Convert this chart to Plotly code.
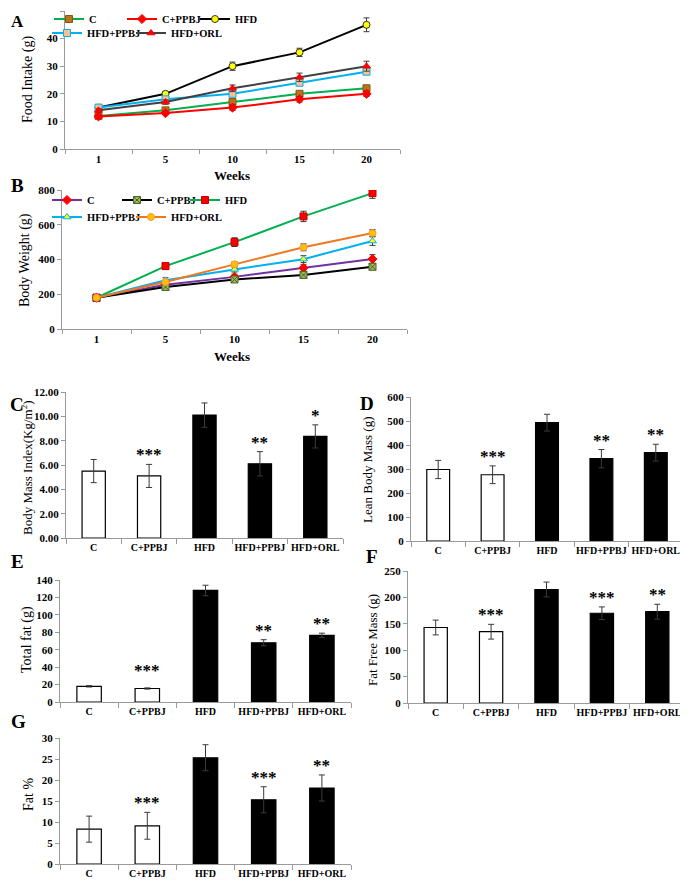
import plotly.graph_objects as go

# the page places the figure 8px in from the top-left corner of the window
OFF = 8
W, H = 688 - OFF, 883 - OFF
FONT = "Liberation Serif"

# ---------------- data ----------------
weeks = ["1", "5", "10", "15", "20"]

# Panel A: food intake (g)
fi_C = [12, 14, 17, 20, 22]
fi_C_err = [0.5, 0.5, 0.6, 0.8, 0.8]
fi_CP = [11.8, 13, 15, 18, 20]
fi_CP_err = [0.5, 0.6, 1.0, 1.0, 1.0]
fi_HFD = [15, 20, 30, 35, 45]
fi_HFD_err = [0.6, 0.8, 1.5, 1.5, 2.5]
fi_HP = [15, 18, 20, 24, 28]
fi_HP_err = [0.6, 0.6, 0.8, 1.0, 1.0]
fi_HO = [14, 17, 22, 26, 30]
fi_HO_err = [0.6, 0.8, 1.2, 1.5, 1.8]

# Panel B: body weight (g)
bw_C = [180, 255, 300, 352, 403]
bw_C_err = [5, 10, 15, 18, 25]
bw_CP = [180, 242, 285, 311, 358]
bw_CP_err = [5, 10, 12, 15, 15]
bw_HFD = [180, 362, 500, 648, 782]
bw_HFD_err = [5, 15, 25, 30, 30]
bw_HP = [180, 280, 343, 402, 506]
bw_HP_err = [5, 15, 15, 20, 25]
bw_HO = [180, 270, 372, 470, 552]
bw_HO_err = [5, 10, 15, 20, 20]

# Bar panels
groups = ["C", "C+PPBJ", "HFD", "HFD+PPBJ", "HFD+ORL"]
bmi = [5.5, 5.1, 10.1, 6.1, 8.35]
bmi_err = [0.95, 0.95, 1.0, 1.0, 0.95]
bmi_sig = ["", "***", "", "**", "*"]
lbm = [298, 276, 493, 343, 368]
lbm_err = [38, 37, 35, 38, 35]
lbm_sig = ["", "***", "", "**", "**"]
tfat = [18, 15.5, 128, 68, 76.5]
tfat_err = [0.8, 0.7, 6, 3.5, 2.5]
tfat_sig = ["", "***", "", "**", "**"]
ffm = [143, 135, 215, 170, 173]
ffm_err = [14, 14, 14, 12, 14]
ffm_sig = ["", "***", "", "***", "**"]
fatp = [8.3, 9.1, 25.3, 15.3, 18.1]
fatp_err = [3.1, 3.2, 3.1, 3.1, 3.1]
fatp_sig = ["", "***", "", "***", "**"]
bar_fill = ["white", "white", "black", "black", "black"]


def fx(p):
    return (p - OFF) / W


def fy(p):
    return 1 - (p - OFF) / H


def dx(a, b):
    return [fx(a), fx(b)]


def dy(top, bottom):
    return [fy(bottom), fy(top)]


fig = go.Figure()

ERR = dict(type="data", color="#3a3a3a", thickness=1, width=3, visible=True)


def line_trace(name, y, err, xa, ya, lcolor, msym, mcolor, mline, legend):
    fig.add_trace(go.Scatter(
        x=weeks, y=y, name=name, mode="lines+markers",
        line=dict(color=lcolor, width=2),
        marker=dict(symbol=msym, size=7, color=mcolor, line=dict(color=mline, width=1)),
        error_y=dict(ERR, array=err),
        xaxis=xa, yaxis=ya, legend=legend,
    ))


# Panel A
line_trace("C", fi_C, fi_C_err, "x", "y", "#00B050", "square", "#B8741A", "#8a5510", "legend")
line_trace("C+PPBJ", fi_CP, fi_CP_err, "x", "y", "#FF0000", "diamond", "#FF0000", "#FF0000", "legend2")
line_trace("HFD", fi_HFD, fi_HFD_err, "x", "y", "#000000", "circle", "#FFFF00", "#333333", "legend3")
line_trace("HFD+PPBJ", fi_HP, fi_HP_err, "x", "y", "#00B0F0", "square", "#FAC090", "#00B0F0", "legend4")
line_trace("HFD+ORL", fi_HO, fi_HO_err, "x", "y", "#404040", "triangle-up", "#FF0000", "#FF0000", "legend5")

# Panel B
line_trace("C", bw_C, bw_C_err, "x2", "y2", "#7030A0", "diamond", "#FF0000", "#FF0000", "legend6")
line_trace("C+PPBJ", bw_CP, bw_CP_err, "x2", "y2", "#000000", "square-x", "#9BBB59", "#4F6228", "legend7")
line_trace("HFD", bw_HFD, bw_HFD_err, "x2", "y2", "#00B050", "square", "#FF0000", "#C00000", "legend8")
line_trace("HFD+PPBJ", bw_HP, bw_HP_err, "x2", "y2", "#00B0F0", "triangle-up", "#FFFF00", "#00B0F0", "legend9")
line_trace("HFD+ORL", bw_HO, bw_HO_err, "x2", "y2", "#F07820", "circle", "#FFC000", "#F79646", "legend10")

# Bar panels
bar_panels = [
    (bmi, bmi_err, bmi_sig, "x3", "y3", 0),
    (lbm, lbm_err, lbm_sig, "x4", "y4", 0),
    (tfat, tfat_err, tfat_sig, "x5", "y5", 25),
    (ffm, ffm_err, ffm_sig, "x6", "y6", 0),
    (fatp, fatp_err, fatp_sig, "x7", "y7", 0),
]
annotations = []
for vals, errs, sigs, xa, ya, floor in bar_panels:
    fig.add_trace(go.Bar(
        x=groups, y=vals, width=0.42, showlegend=False,
        marker=dict(color=bar_fill, line=dict(color="black", width=1.2)),
        error_y=dict(ERR, array=errs, color="#3a3a3a"),
        xaxis=xa, yaxis=ya,
    ))
    for g, v, e, s in zip(groups, vals, errs, sigs):
        if s:
            annotations.append(dict(
                x=g, y=max(v + e, floor), xref=xa, yref=ya, text=s, showarrow=False,
                yanchor="bottom", yshift=-2,
                font=dict(family=FONT, size=17, color="black", weight="bold"),
            ))

TICKFONT = dict(family=FONT, size=11, color="black", weight="bold")
CATFONT = dict(family=FONT, size=10, color="black", weight="bold")
AX = dict(showgrid=False, zeroline=False, showline=True, linecolor="#9a9a9a", linewidth=1,
          ticks="outside", tickcolor="#9a9a9a", ticklen=4, tickfont=TICKFONT, automargin=False)
XB = dict(AX, range=[-0.5, 4.5], tickson="boundaries", tickangle=0, tickfont=CATFONT, ticklen=5)

fig.update_layout(
    xaxis=dict(AX, domain=dx(65, 400), anchor="y", range=[-0.5, 4.5], tickson="boundaries", tickangle=0),
    yaxis=dict(AX, domain=dy(11, 149), anchor="x", range=[0, 50], dtick=10),
    xaxis2=dict(AX, domain=dx(62, 407), anchor="y2", range=[-0.5, 4.5], tickson="boundaries", tickangle=0),
    yaxis2=dict(AX, domain=dy(190, 329), anchor="x2", range=[0, 800], dtick=200),
    xaxis3=dict(XB, domain=dx(66, 343), anchor="y3"),
    yaxis3=dict(AX, domain=dy(392, 538), anchor="x3", range=[0, 12], dtick=2, tickformat=".2f"),
    xaxis4=dict(XB, domain=dx(411, 683), anchor="y4"),
    yaxis4=dict(AX, domain=dy(397, 541), anchor="x4", range=[0, 600], dtick=100),
    xaxis5=dict(XB, domain=dx(60, 351), anchor="y5"),
    yaxis5=dict(AX, domain=dy(580, 702), anchor="x5", range=[0, 140], dtick=20),
    xaxis6=dict(XB, domain=dx(408, 685), anchor="y6"),
    yaxis6=dict(AX, domain=dy(571, 703), anchor="x6", range=[0, 250], dtick=50),
    xaxis7=dict(XB, domain=dx(60, 351), anchor="y7"),
    yaxis7=dict(AX, domain=dy(738, 864), anchor="x7", range=[0, 30], dtick=5),
)

LEG = dict(orientation="h", bgcolor="rgba(0,0,0,0)", xanchor="left", yanchor="middle",
           font=dict(family=FONT, size=10.5, color="black", weight="bold"),
           itemwidth=30, tracegroupgap=0)
legend_pos = {
    "legend": (49, 19), "legend2": (122, 19), "legend3": (195, 19),
    "legend4": (47, 33), "legend5": (131, 33),
    "legend6": (47, 200), "legend7": (117, 200), "legend8": (185, 200),
    "legend9": (47, 217), "legend10": (131, 217),
}
fig.update_layout({k: dict(LEG, x=fx(px), y=fy(py)) for k, (px, py) in legend_pos.items()})


def paper_text(text, px, py, size, bold=False, angle=0):
    annotations.append(dict(
        x=fx(px), y=fy(py), xref="paper", yref="paper", text=text, showarrow=False,
        xanchor="center", yanchor="middle", textangle=angle,
        font=dict(family=FONT, size=size, color="black", weight="bold" if bold else "normal"),
    ))


# panel letters
for letter, px, py, sz in [("A", 17, 21, 17), ("B", 17, 186, 19), ("C", 17, 404, 19),
                           ("D", 367, 403, 19), ("E", 17, 561, 19), ("F", 372, 556, 19),
                           ("G", 18, 721, 19)]:
    paper_text(letter, px, py, sz, bold=True)

# axis titles
paper_text("Food Intake (g)", 28, 80, 14, angle=-90)
paper_text("Weeks", 232, 176, 13, bold=True)
paper_text("Body Weight (g)", 25, 260, 14, angle=-90)
paper_text("Weeks", 232, 357, 13, bold=True)
paper_text("Body Mass Index(Kg/m<sup>2</sup>)", 27, 468, 13, angle=-90)
paper_text("Lean Body Mass (g)", 367, 470, 13, angle=-90)
paper_text("Total fat (g)", 27, 640, 14, angle=-90)
paper_text("Fat Free Mass (g)", 372, 640, 13, angle=-90)
paper_text("Fat %", 28, 795, 14, angle=-90)

fig.update_layout(
    annotations=annotations,
    width=W, height=H,
    margin=dict(l=0, r=0, t=0, b=0, autoexpand=False),
    paper_bgcolor="white", plot_bgcolor="white",
    font=dict(family=FONT, color="black"),
)

fig.write_html("out.html")
